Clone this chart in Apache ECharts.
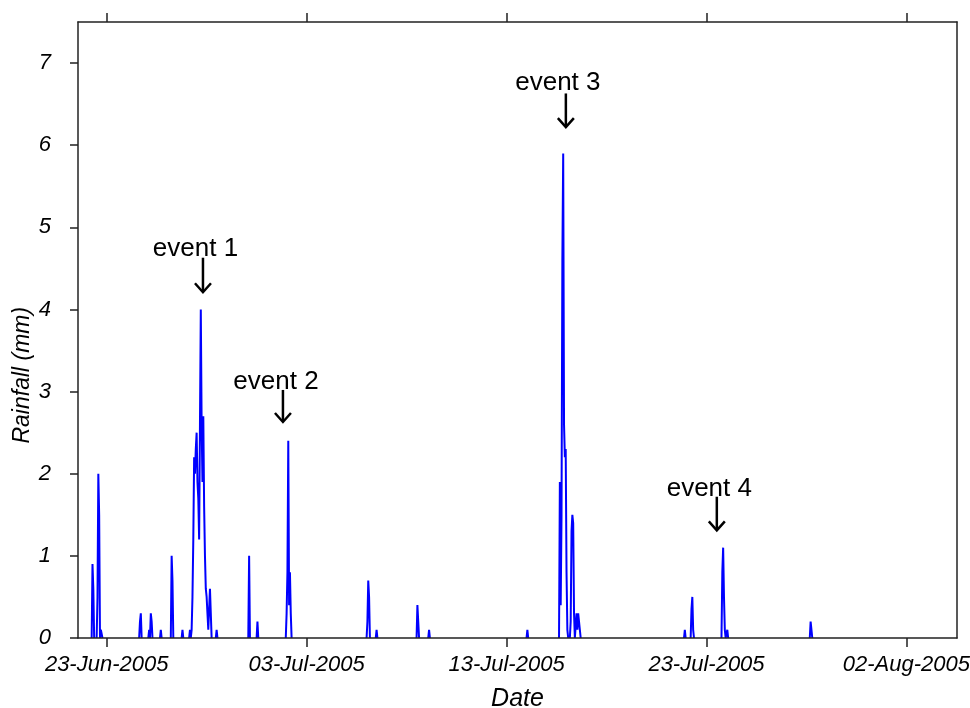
<!DOCTYPE html>
<html><head><meta charset="utf-8">
<script src="https://cdn.jsdelivr.net/npm/echarts@6/dist/echarts.min.js"></script>
<style>html,body{margin:0;padding:0;background:#fff}#chart{width:970px;height:708px}</style>
</head><body><div id="chart"></div>
<script>
// ---- data (hourly rainfall, mm; hours not listed are 0) ----
const rainTimes = [
  '2005-06-22 07:00','2005-06-22 08:00','2005-06-22 13:00','2005-06-22 14:00','2005-06-22 15:00',
  '2005-06-22 17:00','2005-06-22 18:00',
  '2005-06-24 16:00','2005-06-24 17:00',
  '2005-06-25 03:00','2005-06-25 05:00','2005-06-25 06:00','2005-06-25 17:00',
  '2005-06-26 06:00','2005-06-26 07:00','2005-06-26 19:00',
  '2005-06-27 04:00','2005-06-27 05:00','2005-06-27 06:00','2005-06-27 07:00','2005-06-27 08:00',
  '2005-06-27 09:00','2005-06-27 10:00','2005-06-27 11:00','2005-06-27 12:00','2005-06-27 13:00',
  '2005-06-27 14:00','2005-06-27 15:00','2005-06-27 16:00','2005-06-27 17:00','2005-06-27 18:00',
  '2005-06-27 19:00','2005-06-27 20:00','2005-06-27 21:00','2005-06-27 22:00','2005-06-27 23:00',
  '2005-06-28 00:00','2005-06-28 01:00','2005-06-28 02:00','2005-06-28 03:00','2005-06-28 04:00',
  '2005-06-28 05:00','2005-06-28 12:00',
  '2005-06-30 03:00','2005-06-30 13:00',
  '2005-07-02 00:00','2005-07-02 01:00','2005-07-02 02:00','2005-07-02 03:00','2005-07-02 04:00','2005-07-02 05:00',
  '2005-07-06 01:00','2005-07-06 02:00','2005-07-06 03:00','2005-07-06 12:00',
  '2005-07-08 13:00','2005-07-08 14:00','2005-07-09 03:00',
  '2005-07-14 01:00',
  '2005-07-15 16:00','2005-07-15 17:00','2005-07-15 18:00','2005-07-15 19:00','2005-07-15 20:00',
  '2005-07-15 21:00','2005-07-15 22:00','2005-07-15 23:00','2005-07-16 00:00','2005-07-16 01:00',
  '2005-07-16 05:00','2005-07-16 06:00','2005-07-16 07:00','2005-07-16 08:00','2005-07-16 09:00',
  '2005-07-16 12:00','2005-07-16 13:00','2005-07-16 14:00','2005-07-16 15:00','2005-07-16 16:00',
  '2005-07-21 22:00',
  '2005-07-22 06:00','2005-07-22 07:00','2005-07-22 08:00',
  '2005-07-23 19:00','2005-07-23 20:00','2005-07-23 21:00','2005-07-23 22:00',
  '2005-07-24 01:00',
  '2005-07-28 05:00','2005-07-28 06:00'
];
const rainValues = [
  0.9,0.6,0.5,2.0,1.5,
  0.1,0.1,
  0.2,0.3,
  0.1,0.3,0.2,0.1,
  1.0,0.7,0.1,
  0.1,0,0.1,0.5,1.2,
  2.2,2.0,2.3,2.5,1.9,
  1.7,1.2,2.6,4.0,2.6,
  1.9,2.7,1.6,1.0,0.6,
  0.5,0.3,0.1,0.1,0.6,
  0.3,0.1,
  1.0,0.2,
  0.3,0.8,2.4,0.4,0.8,0.3,
  0.2,0.7,0.5,0.1,
  0.4,0.2,0.1,
  0.1,
  1.9,0.4,1.5,4.6,5.9,
  2.6,2.2,2.3,0.8,0.1,
  0.2,1.3,1.5,1.4,0.3,
  0.3,0.1,0.3,0.3,0.1,
  0.1,
  0.35,0.5,0.1,
  0.8,1.1,0.5,0.1,
  0.1,
  0.2,0.1
];
const xTickLabels = ['23-Jun-2005','03-Jul-2005','13-Jul-2005','23-Jul-2005','02-Aug-2005'];
const yTickValues = [0,1,2,3,4,5,6,7];
const xRange = ['2005-06-21 13:36','2005-08-04 12:42'];
const yRange = [0, 7.5];
const xAxisTitle = 'Date';
const yAxisTitle = 'Rainfall (mm)';
const eventLabels = ['event 1','event 2','event 3','event 4'];
const eventLabelTimes = ['2005-06-27 10:36','2005-07-01 11:12','2005-07-15 13:36','2005-07-23 03:24'];
const eventLabelValues = [4.74, 3.12, 6.76, 1.82];
const arrowTimes = ['2005-06-27 19:36','2005-07-01 19:36','2005-07-15 23:12','2005-07-23 12:24'];
const arrowTopValues = [4.63, 3.02, 6.63, 1.72];
const arrowTipValues = [4.21, 2.63, 6.22, 1.31];

// ---- helpers ----
const MONTHS = ['Jan','Feb','Mar','Apr','May','Jun','Jul','Aug','Sep','Oct','Nov','Dec'];
function parseT(s){
  const [d,t] = s.split(' ');
  const [Y,M,D] = d.split('-').map(Number);
  const [h,m] = (t||'00:00').split(':').map(Number);
  return new Date(Y,M-1,D,h,m).getTime();
}
function parseLabel(s){
  const [D,Mon,Y] = s.split('-');
  return new Date(+Y, MONTHS.indexOf(Mon), +D).getTime();
}
function fmtDate(v){
  const d = new Date(v);
  const dd = String(d.getDate()).padStart(2,'0');
  return dd + '-' + MONTHS[d.getMonth()] + '-' + d.getFullYear();
}
const HOUR = 3600000;
const rainMap = new Map(rainTimes.map((s,i)=>[parseT(s), rainValues[i]]));
const get = t => rainMap.has(t) ? rainMap.get(t) : 0;
const seriesData = [];
{
  const t0 = parseT('2005-06-21 14:00'), t1 = parseT('2005-08-04 12:00');
  let gap = false;
  for (let t = t0; t <= t1; t += HOUR) {
    const v = get(t);
    if (v > 0 || get(t-HOUR) > 0 || get(t+HOUR) > 0 || rainMap.has(t)) {
      seriesData.push([t, v]); gap = false;
    } else if (!gap) {
      seriesData.push([t, '-']); gap = true;
    }
  }
}
const xTickVals = xTickLabels.map(parseLabel);
const xMin = parseT(xRange[0]), xMax = parseT(xRange[1]);
const FONT = '"Liberation Sans", Arial, Helvetica, sans-serif';
const AX = '#222';

const chart = echarts.init(document.getElementById('chart'), null, {renderer:'canvas'});
const option = {
  animation: false,
  backgroundColor: '#fff',
  grid: {left: 78, right: 13, top: 22, bottom: 70, containLabel: false, outerBoundsMode: 'none'},
  xAxis: [{
    type: 'value', min: xMin, max: xMax, position: 'bottom', z: 5,
    axisLine: {show: true, onZero: false, lineStyle: {color: AX, width: 1.5}},
    axisTick: {show: true, inside: false, length: 9, customValues: xTickVals, lineStyle: {color: AX, width: 1.5}},
    axisLabel: {customValues: xTickVals, formatter: v => fmtDate(v), fontStyle: 'italic', fontSize: 22,
      fontFamily: FONT, color: '#000', margin: 16, hideOverlap: false},
    splitLine: {show: false},
    name: xAxisTitle, nameLocation: 'middle', nameGap: 49,
    nameTextStyle: {fontStyle: 'italic', fontSize: 25, fontFamily: FONT, color: '#000'}
  }, {
    type: 'value', min: xMin, max: xMax, position: 'top', z: 5,
    axisLine: {show: true, onZero: false, lineStyle: {color: AX, width: 1.5}},
    axisTick: {show: true, inside: false, length: 9, customValues: xTickVals, lineStyle: {color: AX, width: 1.5}},
    axisLabel: {show: false}, splitLine: {show: false}
  }],
  yAxis: [{
    type: 'value', min: yRange[0], max: yRange[1], position: 'left', z: 5,
    axisLine: {show: true, onZero: false, lineStyle: {color: AX, width: 1.5}},
    axisTick: {show: true, inside: false, length: 8, customValues: yTickValues, lineStyle: {color: AX, width: 1.5}},
    axisLabel: {customValues: yTickValues, formatter: v => String(v), fontStyle: 'italic', fontSize: 22,
      fontFamily: FONT, color: '#000', margin: 27},
    splitLine: {show: false}
  }, {
    type: 'value', min: yRange[0], max: yRange[1], position: 'right', z: 5,
    axisLine: {show: true, onZero: false, lineStyle: {color: AX, width: 1.5}},
    axisTick: {show: false}, axisLabel: {show: false}, splitLine: {show: false}
  }],
  series: [{
    type: 'line', name: 'Rainfall', xAxisIndex: 0, yAxisIndex: 0,
    data: seriesData, showSymbol: false, symbol: 'none', connectNulls: false,
    lineStyle: {color: '#0000ff', width: 2}, z: 2
  }]
};
chart.setOption(option);

const g = [];
// y-axis title, placed left of the axis and somewhat below the axis middle (as in the original)
{
  const [, yMid] = chart.convertToPixel({seriesIndex: 0}, [xMin, 3.2]);
  g.push({type: 'text', x: 23, y: yMid, rotation: Math.PI / 2, z: 10,
    style: {text: yAxisTitle, fontSize: 23, fontStyle: 'italic', fontFamily: FONT, fill: '#000',
      align: 'center', verticalAlign: 'middle', textAlign: 'center', textVerticalAlign: 'middle'}});
}
eventLabels.forEach((lab, i) => {
  const [tx, ty] = chart.convertToPixel({seriesIndex: 0}, [parseT(eventLabelTimes[i]), eventLabelValues[i]]);
  const [ax, ay0] = chart.convertToPixel({seriesIndex: 0}, [parseT(arrowTimes[i]), arrowTopValues[i]]);
  const [, ay1] = chart.convertToPixel({seriesIndex: 0}, [parseT(arrowTimes[i]), arrowTipValues[i]]);
  g.push({type: 'text', x: tx, y: ty, z: 10,
    style: {text: lab, fontSize: 26, fontFamily: FONT, fill: '#000',
      align: 'center', verticalAlign: 'middle', textAlign: 'center', textVerticalAlign: 'middle'}});
  g.push({type: 'line', z: 10, shape: {x1: ax, y1: ay0, x2: ax, y2: ay1 - 1},
    style: {stroke: '#000', lineWidth: 2.5}});
  g.push({type: 'polyline', z: 10, shape: {points: [[ax - 8, ay1 - 9], [ax, ay1], [ax + 8, ay1 - 9]]},
    style: {stroke: '#000', lineWidth: 2.5, fill: null}});
});
chart.setOption({graphic: g});
</script>
</body></html>
